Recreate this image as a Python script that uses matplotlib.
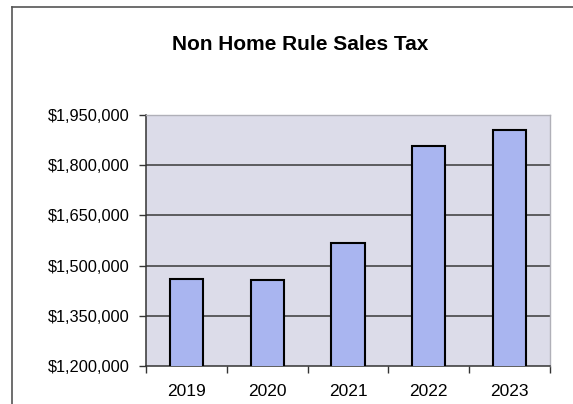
import numpy as np
import matplotlib.pyplot as plt
from matplotlib.lines import Line2D
from matplotlib.ticker import FuncFormatter

plt.rcParams['font.family'] = ['Liberation Sans', 'DejaVu Sans']

# datos
anios = ['2019', '2020', '2021', '2022', '2023']
ventas = [1459000, 1458000, 1568000, 1857000, 1906000]
y_ticks = [1200000, 1350000, 1500000, 1650000, 1800000, 1950000]

fig = plt.figure(figsize=(5.73, 4.04), dpi=100)
fig.patch.set_facecolor('white')

# marco exterior (solo arriba e izquierda se ven en el recorte)
x0 = 12 / 573
y0 = 1 - 6.5 / 404
fig.lines.append(Line2D([x0, 1], [y0, y0], transform=fig.transFigure, color='#555555', lw=1.2))
fig.lines.append(Line2D([x0, x0], [0, y0], transform=fig.transFigure, color='#555555', lw=1.2))

ax = fig.add_axes([146 / 573, 1 - 366 / 404, (550 - 146) / 573, (366 - 115) / 404])
ax.set_facecolor('#dcdce9')

x = np.arange(len(anios)) + 0.5
ax.bar(x, ventas, width=0.41, color='#a9b5f0', edgecolor='black', linewidth=1.5, zorder=3)

ax.set_xlim(0, len(anios))
ax.set_ylim(y_ticks[0], y_ticks[-1])
ax.set_yticks(y_ticks)
ax.yaxis.set_major_formatter(FuncFormatter(lambda v, p: '${:,.0f}'.format(v)))

ax.set_xticks(np.arange(len(anios) + 1))
ax.set_xticklabels([])
ax.set_xticks(x, minor=True)
ax.set_xticklabels(anios, minor=True)
ax.tick_params(axis='x', which='minor', length=0, pad=13, labelsize=12.5)
ax.tick_params(axis='x', which='major', length=5, width=1, color='#333333')
ax.tick_params(axis='y', length=5, width=1, color='#333333', pad=7, labelsize=11.8)

for v in y_ticks[1:-1]:
    ax.axhline(v, color='#3a3a3a', linewidth=1.1, zorder=2)

for lado in ['top', 'right']:
    ax.spines[lado].set_color('#b0b0b8')
    ax.spines[lado].set_linewidth(1)
for lado in ['left', 'bottom']:
    ax.spines[lado].set_color('#333333')
    ax.spines[lado].set_linewidth(1.1)

fig.text(300 / 573, 1 - 45 / 404, 'Non Home Rule Sales Tax', ha='center', va='center',
         fontsize=15, fontweight='bold')

plt.savefig('out.png', dpi=100)
